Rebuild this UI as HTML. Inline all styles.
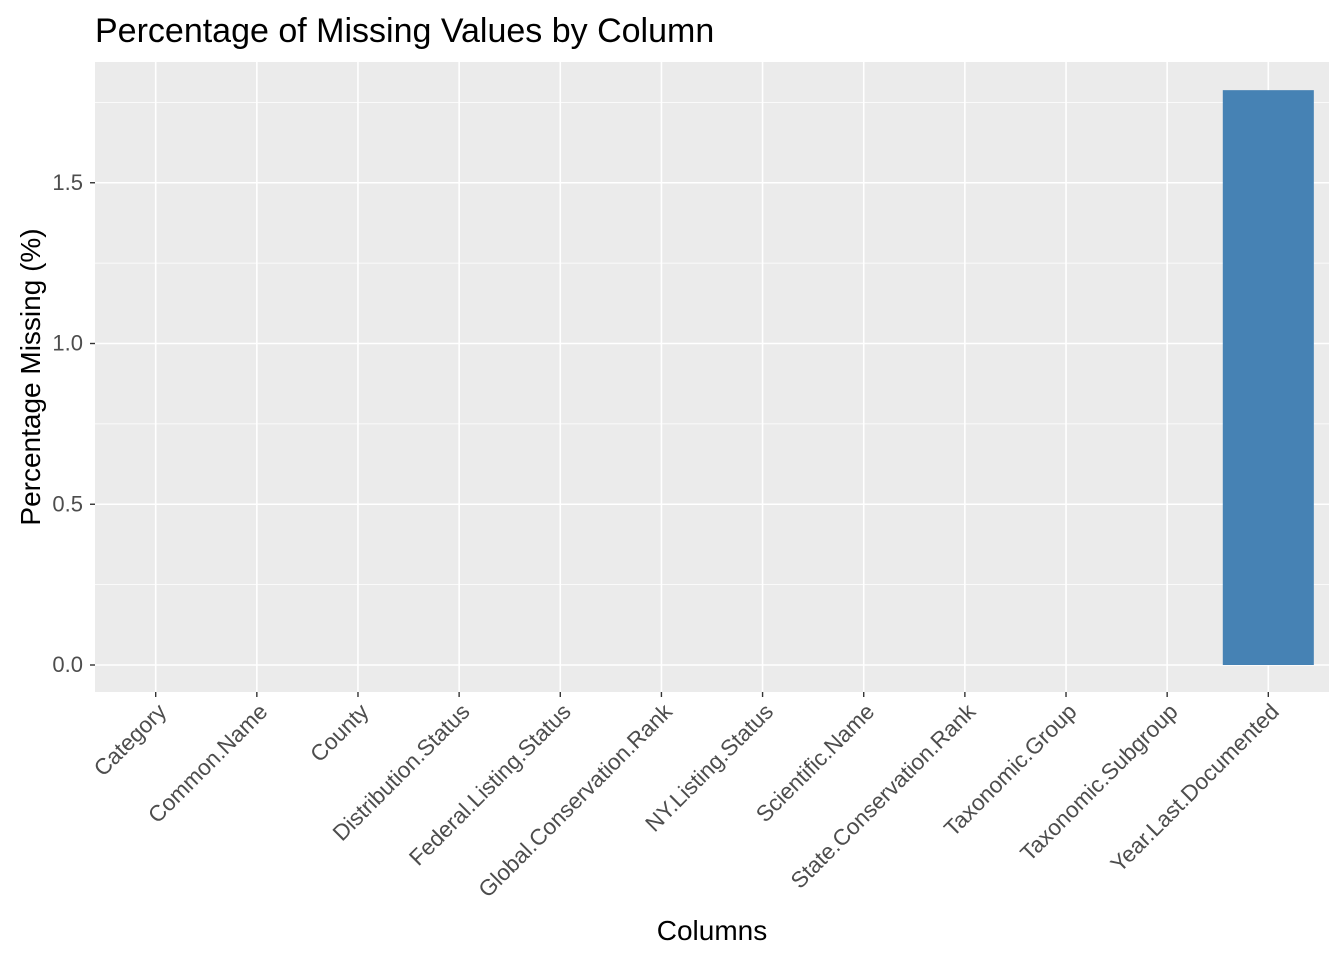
<!DOCTYPE html>
<html><head><meta charset="utf-8"><style>
html,body{margin:0;padding:0;background:#fff;}
svg{display:block;font-family:"Liberation Sans",Arial,sans-serif;}
</style></head><body>
<svg id="chart" width="1344" height="960"></svg>
<script>
const categories = ["Category","Common.Name","County","Distribution.Status","Federal.Listing.Status","Global.Conservation.Rank","NY.Listing.Status","Scientific.Name","State.Conservation.Rank","Taxonomic.Group","Taxonomic.Subgroup","Year.Last.Documented"];
const values = [0,0,0,0,0,0,0,0,0,0,0,1.788];
const yTicks = [0,0.5,1.0,1.5];
const yTickLabels = ["0.0","0.5","1.0","1.5"];

const NS="http://www.w3.org/2000/svg";
const svg=document.getElementById('chart');
const P={l:95,r:1329,t:62,b:692};
const y0=665, yScale=321.5;
const yPos=v=>y0-v*yScale;
const step=(P.r-P.l)/(categories.length+0.2);
const xPos=i=>P.l+step*(0.6+i);
function mk(tag,attrs,parent){const e=document.createElementNS(NS,tag);for(const k in attrs)e.setAttribute(k,attrs[k]);(parent||svg).appendChild(e);return e;}

const title=mk('text',{x:95,y:42,'font-size':34,fill:'#000'});


title.textContent='Percentage of Missing Values by Column';

const panel=mk('rect',{x:P.l,y:P.t,width:P.r-P.l,height:P.b-P.t,fill:'#ebebeb'});



for(let i=0;i<yTicks.length;i++){
  const v=yTicks[i]+0.25;
  const yy=yPos(v);
  if(yy>P.t && yy<P.b){const g=mk('line',{x1:P.l,x2:P.r,y1:yy,y2:yy,stroke:'#fff','stroke-width':0.8});
  }
}
yTicks.forEach((v,i)=>{
  const yy=yPos(v);
  const g=mk('line',{x1:P.l,x2:P.r,y1:yy,y2:yy,stroke:'#fff','stroke-width':1.6});
  
  const t=mk('line',{x1:P.l-5,x2:P.l,y1:yy,y2:yy,stroke:'#333','stroke-width':1.4});
  
  const tx=mk('text',{x:P.l-12,y:yy+7,'font-size':22,fill:'#4d4d4d','text-anchor':'end'});
  
  tx.textContent=yTickLabels[i];
});
categories.forEach((c,i)=>{
  const xx=xPos(i);
  const g=mk('line',{x1:xx,x2:xx,y1:P.t,y2:P.b,stroke:'#fff','stroke-width':1.6});
  
});
values.forEach((v,i)=>{
  if(v<=0)return;
  const xx=xPos(i),w=step*0.9;
  const b=mk('rect',{x:xx-w/2,y:yPos(v),width:w,height:yPos(0)-yPos(v),fill:'#4682b4'});
  
  
});
categories.forEach((c,i)=>{
  const xx=xPos(i);
  const t=mk('line',{x1:xx,x2:xx,y1:P.b,y2:P.b+5,stroke:'#333','stroke-width':1.4});
  
  const ax=xx+12, ay=P.b+21;
  const tx=mk('text',{x:ax,y:ay,'font-size':22.5,fill:'#4d4d4d','text-anchor':'end',transform:`rotate(-45 ${ax} ${ay})`});
  
  tx.textContent=c;
});
const xt=mk('text',{x:(P.l+P.r)/2,y:940,'font-size':28,fill:'#000','text-anchor':'middle'});

xt.textContent='Columns';
const yt=mk('text',{x:0,y:0,'font-size':28,fill:'#000','text-anchor':'middle',transform:`translate(40 ${(P.t+P.b)/2}) rotate(-90)`});

yt.textContent='Percentage Missing (%)';
</script>
</body></html>
